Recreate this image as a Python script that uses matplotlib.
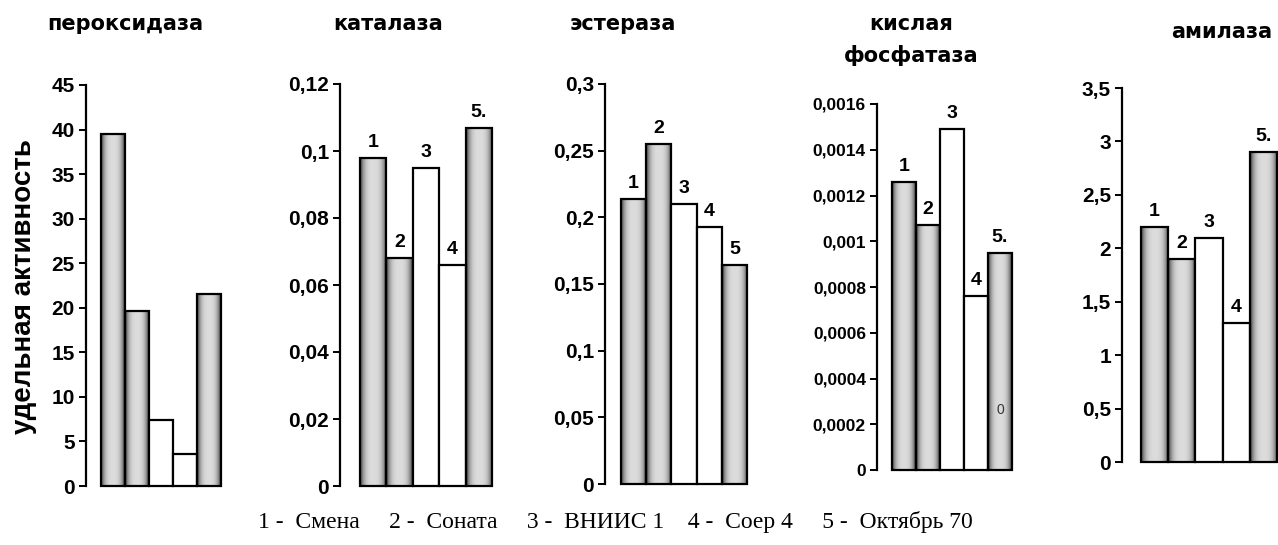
import matplotlib.pyplot as plt
import numpy as np

plt.rcParams['font.family'] = ['Liberation Sans', 'DejaVu Sans']

W, H = 1278, 545

# enzyme activity for the five varieties
peroxidase = [39.5, 19.6, 7.4, 3.6, 21.6]
catalase = [0.098, 0.068, 0.095, 0.066, 0.107]
esterase = [0.214, 0.255, 0.210, 0.193, 0.164]
acid_phosphatase = [0.00126, 0.00107, 0.00149, 0.00076, 0.00095]
amylase = [2.2, 1.9, 2.1, 1.3, 2.9]

titles = [["пероксидаза"], ["каталаза"], ["эстераза"], ["кислая", "фосфатаза"], ["амилаза"]]

peroxidase_yticks = [0, 5, 10, 15, 20, 25, 30, 35, 40, 45]
catalase_yticks = [0, 0.02, 0.04, 0.06, 0.08, 0.1, 0.12]
esterase_yticks = [0, 0.05, 0.1, 0.15, 0.2, 0.25, 0.3]
phosphatase_yticks = [0, 0.0002, 0.0004, 0.0006, 0.0008, 0.001, 0.0012, 0.0014, 0.0016]
amylase_yticks = [0, 0.5, 1, 1.5, 2, 2.5, 3, 3.5]

peroxidase_labels = []
catalase_labels = ["1", "2", "3", "4", "5."]
esterase_labels = ["1", "2", "3", "4", "5"]
phosphatase_labels = ["1", "2", "3", "4", "5."]
amylase_labels = ["1", "2", "3", "4", "5."]

legend_text = "1 -  Смена     2 -  Соната     3 -  ВНИИС 1    4 -  Соер 4     5 -  Октябрь 70"

shaded = [True, True, False, False, True]

# pixel layout: y-axis x, bars left/right, top tick y, zero y
layout = [
    (86, 101, 221, 85, 486),
    (340, 360, 492, 84, 486),
    (605, 621, 747, 84, 484),
    (877, 892, 1012, 104, 470),
    (1122, 1141, 1277, 88, 462),
]
# title line centres in pixels
title_pos = [[(125, 24)], [(388, 24)], [(623, 24)], [(911, 24), (911, 56)], [(1222, 32)]]

panels = [
    (peroxidase, peroxidase_yticks, peroxidase_labels, 15),
    (catalase, catalase_yticks, catalase_labels, 15),
    (esterase, esterase_yticks, esterase_labels, 15),
    (acid_phosphatase, phosphatase_yticks, phosphatase_labels, 12.5),
    (amylase, amylase_yticks, amylase_labels, 15),
]

fig = plt.figure(figsize=(W / 100, H / 100), dpi=100)

xx = np.linspace(-1, 1, 60)
profile = 0.86 - 0.62 * np.abs(xx) ** 3
grad = np.tile(profile, (40, 1))

for (vals, yticks, labels, tfs), (ax_x, bl, br, ytop, yzero), lines, tpos in zip(
        panels, layout, titles, title_pos):
    ax = fig.add_axes([ax_x / W, 1 - yzero / H, (br + 3 - ax_x) / W, (yzero - ytop) / H])
    ppu = (br - bl) / 5
    x = np.arange(5)
    bars = ax.bar(x, vals, width=1.0, facecolor='white', edgecolor='black',
                  linewidth=1.6, zorder=3, clip_on=False)
    for b, s in zip(bars, shaded):
        if s:
            b.set_facecolor('none')
            im = ax.imshow(grad, extent=[b.get_x(), b.get_x() + 1, 0, b.get_height()],
                           cmap='gray', vmin=0, vmax=1, aspect='auto',
                           interpolation='bicubic', zorder=2)
            im.set_clip_path(b)
    ax.set_xlim(-0.5 - (bl - ax_x) / ppu, 4.5 + 3 / ppu)
    ax.set_ylim(0, yticks[-1])
    ax.set_yticks(yticks)
    ax.set_yticklabels([f"{t:g}".replace('.', ',') for t in yticks],
                       fontsize=tfs, fontweight='bold')
    ax.set_xticks([])
    for sp in ['top', 'right', 'bottom']:
        ax.spines[sp].set_visible(False)
    ax.spines['left'].set_linewidth(1.6)
    ax.tick_params(axis='y', length=5, width=1.4, pad=3)
    ax.patch.set_alpha(0)
    for xi, v, lab in zip(x, vals, labels):
        ax.annotate(lab, (xi, v), xytext=(0, 5), textcoords='offset points',
                    ha='center', va='bottom', fontsize=14, fontweight='bold')
    for line, (tx, ty) in zip(lines, tpos):
        fig.text(tx / W, 1 - ty / H, line, ha='center', va='center', fontsize=15,
                 fontweight='bold', family=['DejaVu Sans'])

# stray mark inside the last phosphatase bar
fig.text(1000 / W, 1 - 410 / H, "0", ha='center', va='center', fontsize=10, color='#333333')

fig.text(24 / W, 1 - 287 / H, "удельная активность", rotation=90, ha='center', va='center',
         fontsize=20, fontweight='bold')

fig.text(615 / W, 1 - 522 / H, legend_text, ha='center', va='center', fontsize=17,
         family=['Liberation Serif', 'DejaVu Serif'])

fig.savefig("out.png", dpi=100, facecolor='white')
